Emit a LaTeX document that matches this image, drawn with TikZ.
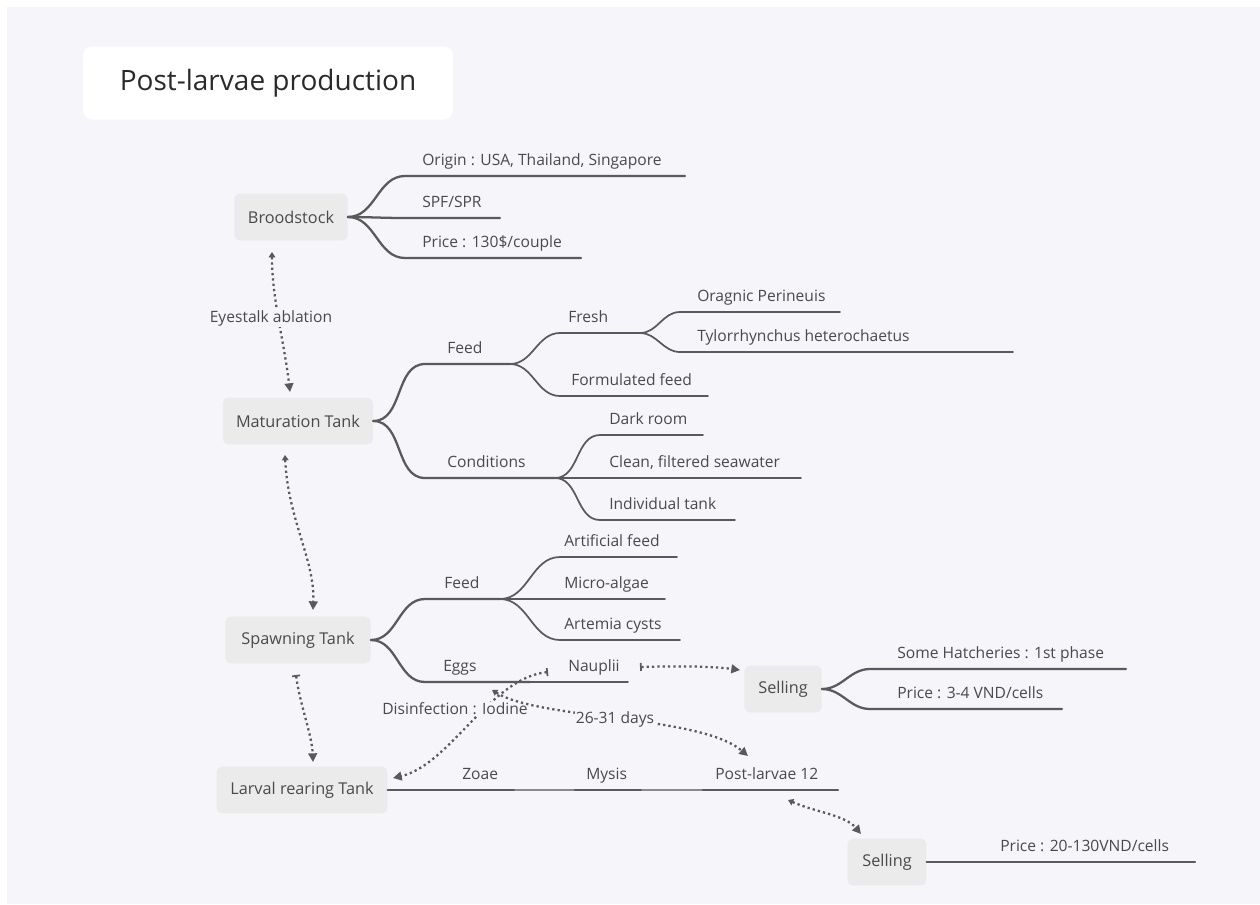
\documentclass[tikz,border=0pt]{standalone}
\usepackage{fontspec}
\setmainfont{Open Sans}
\usetikzlibrary{arrows.meta}
\definecolor{bg}{HTML}{F5F5FA}
\definecolor{nodefill}{HTML}{EBEBEB}
\definecolor{linec}{HTML}{5A5A5A}
\definecolor{txt}{HTML}{4A4A4A}
\definecolor{titletxt}{HTML}{2A2A2A}
\tikzset{
  box/.style={fill=nodefill, rounded corners=4pt, text=txt, font=\fontsize{12.2}{14}\selectfont, minimum height=35pt, inner sep=0pt},
  lbl/.style={anchor=base west, inner sep=0pt, text=txt, font=\fontsize{11.7}{13}\selectfont},
  clbl/.style={inner sep=1pt, text=txt, fill=bg, font=\fontsize{11.7}{13}\selectfont},
  br/.style={draw=linec, line width=1.7pt, line cap=round},
  sbr/.style={draw=linec, line width=1.3pt, line cap=round},
  dotarr/.style={draw=linec, line width=1.7pt, dash pattern=on 1.7pt off 2.3pt},
  endtip/.tip={Triangle[length=6.5pt,width=6.5pt]},
  starttip/.tip={Triangle[length=4pt,width=5pt]},
  bartip/.tip={Bar[width=6pt,line width=1.3pt]}
}
\begin{document}
\begin{tikzpicture}[x=0.75pt,y=-0.75pt]
\useasboundingbox (0,0) rectangle (1260,904);
\fill[white] (0,0) rectangle (1260,904);
\fill[bg] (7,7) rectangle (1260,904);

% title
\node[fill=white, rounded corners=7pt, minimum width=277.5pt, minimum height=55pt, text=titletxt, font=\fontsize{21}{25}\selectfont] (title) at (268,83) {Post-larvae production};

% main nodes
\node[box, minimum width=85pt] (brood) at (291,217) {Broodstock};
\node[box, minimum width=112.5pt] (mat) at (298,421) {Maturation Tank};
\node[box, minimum width=109pt] (spawn) at (298,640) {Spawning Tank};
\node[box, minimum width=128pt] (larv) at (302,790) {Larval rearing Tank};
\node[box, minimum width=58pt] (sell1) at (783,689) {Selling};
\node[box, minimum width=59pt] (sell2) at (887,862) {Selling};

% ---- Broodstock branches
\coordinate (o1s) at (405,176); \coordinate (o1e) at (685,176);
\coordinate (o2s) at (405,218); \coordinate (o2e) at (500,218);
\coordinate (o3s) at (405,258); \coordinate (o3e) at (581,258);
\draw[br] (brood.east) to[out=0,in=180] (o1s) -- (o1e);
\draw[br] (brood.east) to[out=0,in=180] (o2s) -- (o2e);
\draw[br] (brood.east) to[out=0,in=180] (o3s) -- (o3e);
\node[lbl] (origin) at (422,165) {Origin : USA, Thailand, Singapore};
\node[lbl] (spf) at (422,207) {SPF/SPR};
\node[lbl] (price1) at (422,247) {Price : 130\$/couple};

% ---- Maturation branches
\coordinate (mfs) at (425,364); \coordinate (mfe) at (510,364);
\coordinate (mcs) at (425,478); \coordinate (mce) at (555,478);
\draw[br] (mat.east) to[out=0,in=180] (mfs) -- (mfe);
\draw[br] (mat.east) to[out=0,in=180] (mcs) -- (mce);
\node[lbl] (mfeed) at (447,353) {Feed};
\node[lbl] (cond) at (447,467) {Conditions};

\coordinate (frs) at (560,333); \coordinate (fre) at (640,333);
\coordinate (fos) at (560,396); \coordinate (foe) at (708,396);
\draw[sbr] (mfe) to[out=0,in=180] (frs) -- (fre);
\draw[sbr] (mfe) to[out=0,in=180] (fos) -- (foe);
\node[lbl] (fresh) at (568,322) {Fresh};
\node[lbl] (formul) at (571,385) {Formulated feed};

\coordinate (ors) at (680,312); \coordinate (ore) at (840,312);
\coordinate (tys) at (680,352); \coordinate (tye) at (1013,352);
\draw[sbr] (fre) to[out=0,in=180] (ors) -- (ore);
\draw[sbr] (fre) to[out=0,in=180] (tys) -- (tye);
\node[lbl] (orag) at (697,301) {Oragnic Perineuis};
\node[lbl] (tylo) at (697,341) {Tylorrhynchus heterochaetus};

\coordinate (drs) at (600,435); \coordinate (dre) at (703,435);
\coordinate (cls) at (600,478); \coordinate (cle) at (801,478);
\coordinate (ins) at (600,520); \coordinate (ine) at (735,520);
\draw[sbr] (mce) to[out=0,in=180] (drs) -- (dre);
\draw[sbr] (mce) to[out=0,in=180] (cls) -- (cle);
\draw[sbr] (mce) to[out=0,in=180] (ins) -- (ine);
\node[lbl] (dark) at (609,424) {Dark room};
\node[lbl] (clean) at (609,467) {Clean, filtered seawater};
\node[lbl] (indiv) at (609,509) {Individual tank};

% ---- Spawning branches
\coordinate (sfs) at (425,599); \coordinate (sfe) at (500,599);
\coordinate (ses) at (425,682); \coordinate (see) at (530,682);
\draw[br] (spawn.east) to[out=0,in=180] (sfs) -- (sfe);
\draw[br] (spawn.east) to[out=0,in=180] (ses) -- (see);
\node[lbl] (sfeed) at (444,588) {Feed};
\node[lbl] (eggs) at (443,671) {Eggs};

\coordinate (ars) at (560,557); \coordinate (are) at (677,557);
\coordinate (mis) at (560,599); \coordinate (mie) at (665,599);
\coordinate (acs) at (560,640); \coordinate (ace) at (680,640);
\draw[sbr] (sfe) to[out=0,in=180] (ars) -- (are);
\draw[sbr] (sfe) to[out=0,in=180] (mis) -- (mie);
\draw[sbr] (sfe) to[out=0,in=180] (acs) -- (ace);
\node[lbl] (artif) at (564,546) {Artificial feed};
\node[lbl] (micro) at (564,588) {Micro-algae};
\node[lbl] (artem) at (564,629) {Artemia cysts};

\coordinate (nae) at (628,682);
\draw[sbr] (see) -- (nae);
\node[lbl] (naup) at (568,671) {Nauplii};

% ---- Selling 1
\coordinate (hs) at (870,669); \coordinate (he) at (1126,669);
\coordinate (ps) at (870,709); \coordinate (pe) at (1062,709);
\draw[br] (sell1.east) to[out=0,in=180] (hs) -- (he);
\draw[br] (sell1.east) to[out=0,in=180] (ps) -- (pe);
\node[lbl] (hatch) at (897,658) {Some Hatcheries : 1st phase};
\node[lbl] (price2) at (897,698) {Price : 3-4 VND/cells};

% ---- Larval rearing
\coordinate (ze) at (515,790);
\coordinate (mys) at (575,790); \coordinate (mye) at (642,790);
\coordinate (pls) at (703,790); \coordinate (ple) at (838,790);
\draw[br] (larv.east) -- (ze);
\draw[sbr, draw=linec!70] (ze) -- (mys);
\draw[br] (mys) -- (mye);
\draw[sbr, draw=linec!70] (mye) -- (pls);
\draw[br] (pls) -- (ple);
\node[lbl] (zoae) at (462,779) {Zoae};
\node[lbl] (mysis) at (586,779) {Mysis};
\node[lbl] (postl) at (715,779) {Post-larvae 12};

% ---- Selling 2
\coordinate (s2e) at (1195,862);
\draw[br] (sell2.east) -- (s2e);
\node[lbl] (price3) at (1000,851) {Price : 20-130VND/cells};

% ---- dotted connectors
\coordinate (a1s) at (272,252); \coordinate (a1e) at (290,392);
\draw[dotarr, starttip-endtip] (a1s) .. controls (272,300) and (284,340) .. (a1e);
\node[clbl] (eye) at (271,318) {Eyestalk ablation};

\coordinate (a2s) at (285,455); \coordinate (a2e) at (313,610);
\draw[dotarr, starttip-endtip] (a2s) .. controls (288,520) and (315,560) .. (a2e);

\coordinate (a3s) at (296,675); \coordinate (a3e) at (313,762);
\draw[dotarr, bartip-endtip] (a3s) .. controls (300,705) and (312,735) .. (a3e);

\coordinate (a4s) at (548,672); \coordinate (a4e) at (393,778);
\draw[dotarr, bartip-endtip] (a4s) .. controls (490,678) and (450,765) .. (a4e);
\node[clbl] (disinf) at (455,709) {Disinfection : Iodine};

\coordinate (a5s) at (492,690); \coordinate (a5e) at (748,756);
\draw[dotarr, starttip-endtip] (a5s) .. controls (540,720) and (700,715) .. (a5e);
\node[clbl] (days) at (615,719) {26-31 days};

\coordinate (a6s) at (640,667); \coordinate (a6e) at (740,670);
\draw[dotarr, bartip-endtip] (a6s) .. controls (675,666) and (710,666) .. (a6e);

\coordinate (a7s) at (788,800); \coordinate (a7e) at (861,834);
\draw[dotarr, starttip-endtip] (a7s) .. controls (815,812) and (845,815) .. (a7e);
\end{tikzpicture}
\end{document}
